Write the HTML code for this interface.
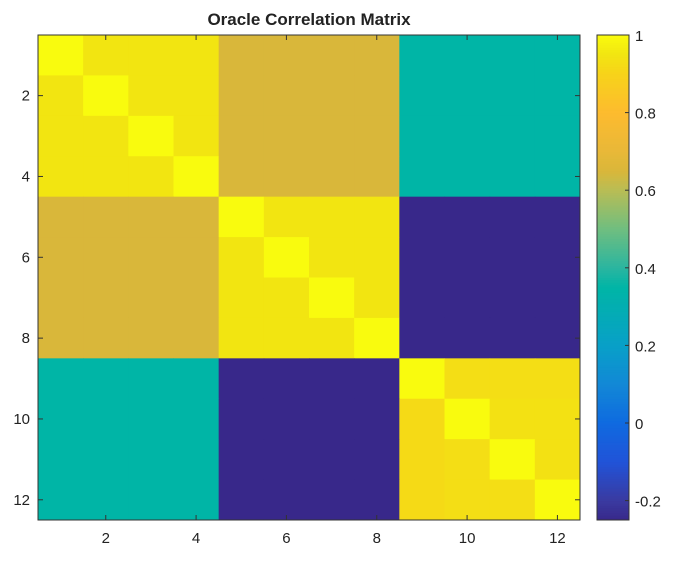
<!DOCTYPE html>
<html><head><meta charset="utf-8"><style>
body{margin:0;background:#fff;}
svg text{font-family:"Liberation Sans",sans-serif;fill:#222;}
</style></head><body>
<svg id="chart" width="681" height="561"></svg>
<script>
const labels=[1,2,3,4,5,6,7,8,9,10,11,12];
const matrix=[
[1,.95,.95,.95,.65,.65,.65,.65,.35,.35,.35,.35],
[.95,1,.95,.95,.65,.65,.65,.65,.35,.35,.35,.35],
[.95,.95,1,.95,.65,.65,.65,.65,.35,.35,.35,.35],
[.95,.95,.95,1,.65,.65,.65,.65,.35,.35,.35,.35],
[.65,.65,.65,.65,1,.95,.95,.95,-.25,-.25,-.25,-.25],
[.65,.65,.65,.65,.95,1,.95,.95,-.25,-.25,-.25,-.25],
[.65,.65,.65,.65,.95,.95,1,.95,-.25,-.25,-.25,-.25],
[.65,.65,.65,.65,.95,.95,.95,1,-.25,-.25,-.25,-.25],
[.35,.35,.35,.35,-.25,-.25,-.25,-.25,1,.93,.93,.93],
[.35,.35,.35,.35,-.25,-.25,-.25,-.25,.92,1,.94,.94],
[.35,.35,.35,.35,-.25,-.25,-.25,-.25,.92,.93,1,.94],
[.35,.35,.35,.35,-.25,-.25,-.25,-.25,.92,.93,.93,1]];
const axisTicks=[2,4,6,8,10,12];
const cbTicks=[-0.2,0,0.2,0.4,0.6,0.8,1];
const vmin=-0.25,vmax=1;
const stops=[[-0.25,'#38288a'],[-0.2,'#3a3aa0'],[-0.1,'#2153d8'],[0,'#0f6ae0'],[0.1,'#1288d6'],[0.2,'#08a0c8'],[0.35,'#00b5a6'],[0.4,'#2ab5a0'],[0.5,'#6fbe80'],[0.6,'#b8bd55'],[0.65,'#d9b73a'],[0.7,'#e8b838'],[0.8,'#fdbb2f'],[0.9,'#f7d31a'],[0.95,'#f2e511'],[1,'#f9fb0e']];
function hex(h){return [1,3,5].map(i=>parseInt(h.substr(i,2),16));}
function cmap(v){
  v=Math.max(vmin,Math.min(vmax,v));
  for(let i=0;i<stops.length-1;i++){
    if(v<=stops[i+1][0]){const a=hex(stops[i][1]),b=hex(stops[i+1][1]);const t=(v-stops[i][0])/(stops[i+1][0]-stops[i][0]);
      return 'rgb('+a.map((c,k)=>Math.round(c+(b[k]-c)*t)).join(',')+')';}
  }
  return stops[stops.length-1][1];
}
const L=38,R=580,T=35,B=520,n=labels.length;
const cw=(R-L)/n,ch=(B-T)/n;
const xS=c=>L+(c-0.5)*cw, yS=r=>T+(r-0.5)*ch;
const svg=document.getElementById('chart');const NS='http://www.w3.org/2000/svg';
function mk(tag,attrs,parent){const e=document.createElementNS(NS,tag);for(const k in attrs)e.setAttribute(k,attrs[k]);(parent||svg).appendChild(e);return e;}
const title=mk('text',{x:309,y:25,'text-anchor':'middle','font-size':17,'font-weight':'bold'});
title.textContent='Oracle Correlation Matrix';


for(let r=0;r<n;r++)for(let c=0;c<n;c++){
  const cell=mk('rect',{x:xS(labels[c])-cw/2,y:yS(labels[r])-ch/2,width:cw+0.5,height:ch+0.5,fill:cmap(matrix[r][c])});
  
  
}
const frame=mk('rect',{x:L,y:T,width:R-L,height:B-T,fill:'none',stroke:'#333','stroke-width':1});


axisTicks.forEach(t=>{
  const x=xS(t),y=yS(t);
  mk('line',{x1:x,x2:x,y1:B,y2:B-5,stroke:'#333'});mk('line',{x1:x,x2:x,y1:T,y2:T+5,stroke:'#333'});
  mk('line',{x1:L,x2:L+5,y1:y,y2:y,stroke:'#333'});mk('line',{x1:R,x2:R-5,y1:y,y2:y,stroke:'#333'});
  const xl=mk('text',{x:x,y:B+23,'text-anchor':'middle','font-size':15});xl.textContent=t;
  
  
  const yl=mk('text',{x:L-8,y:y+5,'text-anchor':'end','font-size':15});yl.textContent=t;
  
  
});
const CL=597,CR=629;
const cbS=v=>B-(v-vmin)/(vmax-vmin)*(B-T);
const cbg=mk('g',{});


for(let i=0;i<200;i++){const v0=vmin+(vmax-vmin)*i/200,v1=vmin+(vmax-vmin)*(i+1)/200;
  mk('rect',{x:CL,y:cbS(v1),width:CR-CL,height:cbS(v0)-cbS(v1)+0.5,fill:cmap((v0+v1)/2)},cbg);}
mk('rect',{x:CL,y:T,width:CR-CL,height:B-T,fill:'none',stroke:'#333'},cbg);
cbTicks.forEach(t=>{const y=cbS(t);
  mk('line',{x1:CR,x2:CR-4,y1:y,y2:y,stroke:'#333'},cbg);
  const tl=mk('text',{x:CR+6,y:y+6,'font-size':15},cbg);tl.textContent=t;
  
  
});
</script>
</body></html>
